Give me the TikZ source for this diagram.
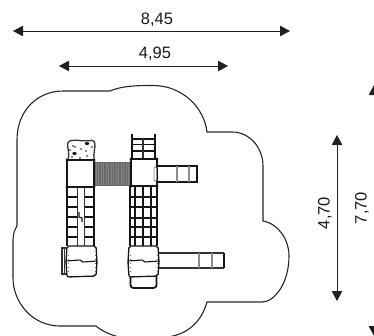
\documentclass[tikz,border=0pt]{standalone}
\usepackage{fontspec}
\setmainfont{Liberation Sans}
\usetikzlibrary{arrows.meta}
\definecolor{dimcol}{HTML}{202020}
\definecolor{ink}{HTML}{151515}
\definecolor{ribfill}{HTML}{6A6A6A}
\definecolor{ribline}{HTML}{858585}
\tikzset{
  dimarrow/.style={draw=dimcol,line width=1pt,{Triangle[length=10pt,width=10.5pt]}-{Triangle[length=10pt,width=10.5pt]}},
  dimlabel/.style={font=\fontsize{16.5}{18}\selectfont,text=black!90,inner sep=0pt},
  contour/.style={draw=black!85,line width=1.1pt},
  rail/.style={draw=ink,line width=1.9pt},
  rung/.style={draw=ink,line width=1.5pt},
  thin part/.style={draw=black!80,line width=1pt},
  grey part/.style={draw=black!45,line width=1.1pt},
  dots/.style={draw=black!60,line width=0.9pt,dash pattern=on 1pt off 3pt},
}
\begin{document}
\begin{tikzpicture}[x=1pt,y=-1pt]
\clip (0,0) rectangle (374,335);
% contour of the safety area
\draw[contour] (17,226) -- (17,140) .. controls (17,110) and (38,91) .. (63,91)
  -- (110,91) .. controls (122,86) and (135,85.5) .. (153,85.5)
  .. controls (182,85.5) and (204,107) .. (207,132)
  -- (232,132) .. controls (250,132) and (263,148) .. (263,166)
  -- (263,221) .. controls (279,224) and (289,240) .. (289,256)
  .. controls (289,284) and (274,302) .. (262,302)
  -- (207,302) .. controls (202,320) and (190,332) .. (173,336)
  .. controls (150,342) and (115,342) .. (96,326)
  -- (60,326) .. controls (32,326) and (13,302) .. (13,278)
  -- (13,240) .. controls (13,234) and (15,229) .. (17,226);
% bridge
\fill[ribfill] (94,162) rectangle (131,185);
\foreach \x in {96,98.5,...,130} \draw[ribline,line width=0.5pt] (\x,162) -- (\x,185);
\draw[black!60,line width=0.7pt] (94,162) -- (131,162) (94,185) -- (131,185);
% left pad
\draw[thin part,line width=1.3pt,rounded corners=2pt] (68,160) .. controls (70,153) and (67,148) .. (68,141)
  -- (76,140) .. controls (82,141) and (88,141) .. (94,140) .. controls (96,147) and (93,153) .. (94,160);
\foreach \p in {(73,146),(75,147),(81,149),(86,151),(87,156),(92,147),(70,150),(80,158),(72,157)}
  \fill[ink] \p circle (0.8pt);
\fill[ink] (87,143.5) ellipse (2.4pt and 1.5pt);
\fill[ink] (74.5,153.5) ellipse (2.2pt and 1.5pt);
% left tower
\draw[rail] (67,160) rectangle (94,187);
\foreach \c in {(67,160),(94,160),(67,187),(94,187)} \fill[ink] \c circle (1.7pt);
% left ladder
\draw[rail] (67,187) -- (67,246) (94,187) -- (94,246);
\foreach \y in {197,207,217,227,237} \draw[rung] (67,\y) -- (77,\y) (84,\y) -- (94,\y);
\draw[thin part] (77,187) -- (77,246) (84,187) -- (84,246);
\draw[rail,line width=1.1pt] (79,212) -- (79,217) -- (82,218) -- (82,222);
% left lower box
\draw[thin part,line width=1.1pt] (66,248) -- (62,248) -- (62,274) -- (66,274);
\draw[thin part] (64,248) -- (64,274);
\draw[draw=ink,line width=1.3pt,rounded corners=2pt] (67,246) -- (96,246) -- (97,262) -- (96,276) -- (67,277) -- (66,262) -- cycle;
\draw[draw=ink,line width=1.1pt] (66,261) -- (80,260) -- (83,262) -- (97,261);
\draw[dots] (68,255) -- (68,274) (95,255) -- (95,274);
% right upper ladder
\draw[rail] (132,134) -- (132,159) (155,134) -- (155,159);
\foreach \y in {139,144.5,151} \draw[rung,line width=1.2pt] (132,\y) -- (155,\y);
\draw[thin part,line width=1.1pt] (143,139) -- (143,159);
% right tower
\draw[rail] (131,159) rectangle (157,186);
\foreach \c in {(131,159),(157,159),(131,186),(157,186)} \fill[ink] \c circle (1.7pt);
% right upper slide
\draw[rail] (157,166) -- (197,166) -- (197,182) -- (157,182);
\draw[grey part] (177,166) -- (177,182) (189,166) -- (189,182);
\draw[grey part,line width=0.8pt,rounded corners=1pt] (154,167) rectangle (156.5,181);
% right ladder net
\draw[rail] (130,186) -- (130,246) (157,186) -- (157,246);
\foreach \x in {135,143,151} \draw[rung] (\x,186) -- (\x,246);
\foreach \y in {197,207,218,227,237} \draw[rung] (130,\y) -- (157,\y);
% right lower slide
\draw[thin part,line width=1.1pt] (159,253) -- (224,253) (159,268) -- (224,268);
\draw[rail,line width=2pt] (224,253) -- (224,268);
\draw[grey part] (199,253) -- (199,268) (212,253) -- (212,268);
% chute below the right lower box
\draw[draw=ink,line width=1.8pt,rounded corners=3pt] (130.5,276) -- (130.5,288) -- (156.5,288) -- (156.5,276);
% right lower box
\draw[draw=ink,line width=1.3pt,rounded corners=2pt,fill=white] (129,246) -- (158,246) -- (159,262) -- (158,276) -- (129,277) -- (128,262) -- cycle;
\draw[draw=ink,line width=1.1pt] (128,261) -- (142,260) -- (145,262) -- (159,261);
\draw[dots] (130,255) -- (130,274) (157,255) -- (157,274);
% dimensions
\coordinate (w1a) at (13,31);
\coordinate (w1b) at (290,31);
\coordinate (w2a) at (59,66);
\coordinate (w2b) at (228,66);
\coordinate (h1a) at (337,135);
\coordinate (h1b) at (337,301);
\coordinate (h2a) at (374,85);
\coordinate (h2b) at (374,336);
\draw[dimarrow] (w1a) -- (w1b);
\draw[dimarrow] (w2a) -- (w2b);
\draw[dimarrow] (h1a) -- (h1b);
\draw[dimarrow] (h2a) -- (h2b);
\node[dimlabel] (l845) at (157,19.5) {8,45};
\node[dimlabel] (l495) at (155,54) {4,95};
\node[dimlabel,rotate=90] (l470) at (325,213) {4,70};
\node[dimlabel,rotate=90] (l770) at (362,208) {7,70};
\end{tikzpicture}
\end{document}
